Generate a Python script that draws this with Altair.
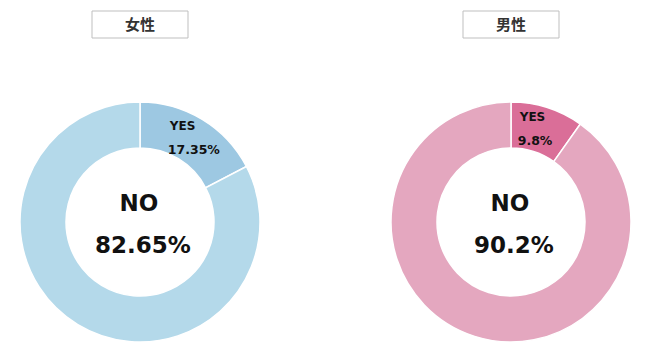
import altair as alt
import pandas as pd

# ---- data ----
genders = ["女性", "男性"]
answers = ["YES", "NO"]
yes_values = [17.35, 9.8]
no_values = [82.65, 90.2]
yes_labels = ["17.35%", "9.8%"]
no_labels = ["82.65%", "90.2%"]

# ---- styles ----
yes_colors = ["#9DC8E2", "#DA6E98"]
no_colors = ["#B4D9EA", "#E4A7BF"]
FONT = "DejaVu Sans"
CJK = "Noto Sans CJK JP"
CX, CY = 140, 222
R_OUT, R_IN = 120, 74


def panel(i, width):
    df = pd.DataFrame({
        "answer": answers,
        "value": [yes_values[i], no_values[i]],
        "order": [0, 1],
        "top_text": ["YES", ""],
        "pct_text": [yes_labels[i], ""],
    })
    color = alt.Color("answer:N",
                      scale=alt.Scale(domain=answers, range=[yes_colors[i], no_colors[i]]),
                      legend=None)
    theta = alt.Theta("value:Q", stack=True)
    base = alt.Chart(df).encode(theta=theta, order=alt.Order("order:Q"),
                                x=alt.value(CX), y=alt.value(CY))
    arc = base.mark_arc(outerRadius=R_OUT, innerRadius=R_IN, stroke="white",
                        strokeWidth=1.5).encode(color=color)
    yes_top = base.mark_text(radius=98, align="left", baseline="middle", dx=-21, dy=-12,
                             font=FONT, fontWeight="bold", fontSize=12,
                             color="#111111").encode(text="top_text:N")
    yes_pct = base.mark_text(radius=98, align="left", baseline="middle", dx=-23, dy=12,
                             font=FONT, fontWeight="bold", fontSize=12.5,
                             color="#111111").encode(text="pct_text:N")

    cdf = pd.DataFrame({"no": ["NO"], "pct": [no_labels[i]], "title": [genders[i]]})
    cbase = alt.Chart(cdf)
    no_txt = cbase.mark_text(align="center", baseline="middle", dx=-1, dy=-18,
                             font=FONT, fontWeight="bold", fontSize=23,
                             color="#111111").encode(text="no:N", x=alt.value(CX), y=alt.value(CY))
    pct_txt = cbase.mark_text(align="center", baseline="middle", dx=3, dy=24,
                              font=FONT, fontWeight="bold", fontSize=23,
                              color="#111111").encode(text="pct:N", x=alt.value(CX), y=alt.value(CY))
    box = cbase.mark_rect(fill="white", stroke="#BFBFBF", strokeWidth=1).encode(
        x=alt.value(CX - 48), x2=alt.value(CX + 48), y=alt.value(11), y2=alt.value(38))
    title = cbase.mark_text(align="center", baseline="middle", font=CJK, fontWeight="bold",
                            fontSize=15, color="#333333").encode(
        text="title:N", x=alt.value(CX), y=alt.value(24.5))
    return alt.layer(arc, yes_top, yes_pct, no_txt, pct_txt, box, title).properties(
        width=width, height=354)


chart = alt.hconcat(panel(0, 280), panel(1, 270), spacing=91).resolve_scale(
    color="independent").properties(
    padding=0, background="white").configure_view(stroke=None)

chart.save("out.html", embed_options={"renderer": "svg", "actions": False})
